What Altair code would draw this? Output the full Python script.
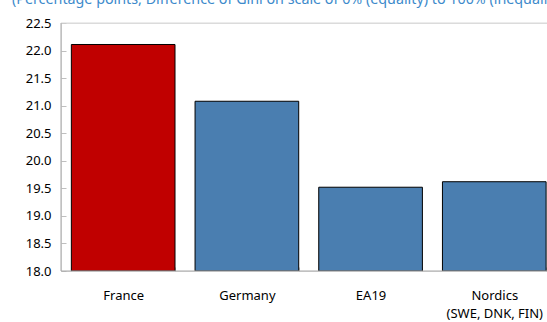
import altair as alt
import pandas as pd

# Gini gap data
categories = ["France", "Germany", "EA19", "Nordics\n(SWE, DNK, FIN)"]
values = [22.11, 21.08, 19.52, 19.62]
bar_colors = ["#C00000", "#4A7EB0", "#4A7EB0", "#4A7EB0"]
y_ticks = [18.0, 18.5, 19.0, 19.5, 20.0, 20.5, 21.0, 21.5, 22.0, 22.5]
subtitle = "(Percentage points, Difference of Gini on scale of 0% (equality) to 100% (inequality))"

W, H = 486, 248
FONT = "Noto Sans"

df = pd.DataFrame({"cat": categories, "val": values, "color": bar_colors})

x_scale = alt.Scale(domain=categories, paddingInner=0.162, paddingOuter=0.0455, align=0.92)
y_scale = alt.Scale(domain=[18.0, 22.5], nice=False, zero=False)

bars = alt.Chart(df).mark_bar(stroke="#000000", strokeWidth=1, clip=True).encode(
    x=alt.X(
        "cat:N",
        scale=x_scale,
        sort=categories,
        title=None,
        axis=alt.Axis(
            labelAngle=0,
            labelExpr="split(datum.label, '\\n')",
            labelFontSize=13,
            labelFont=FONT,
            labelColor="#000000",
            labelLineHeight=18,
            labelPadding=18,
            tickBand="extent",
            tickSize=4,
            tickColor="#bfbfbf",
            offset=-4,
            domain=False,
            grid=False,
        ),
    ),
    y=alt.Y(
        "val:Q",
        scale=y_scale,
        title=None,
        axis=alt.Axis(
            values=y_ticks,
            format=".1f",
            labelFontSize=13,
            labelFont=FONT,
            labelColor="#000000",
            labelPadding=10,
            tickSize=5,
            tickColor="#bfbfbf",
            offset=-5,
            domain=False,
            grid=False,
        ),
    ),
    y2=alt.datum(18.0),
    color=alt.Color("color:N", scale=None, legend=None),
)

# frame lines around the plot area
frame_top = alt.Chart(pd.DataFrame({"k": [0]})).mark_rule(color="#d9d9d9", strokeWidth=1).encode(
    x=alt.value(0), x2=alt.value(W), y=alt.value(0)
)
frame_left = alt.Chart(pd.DataFrame({"k": [0]})).mark_rule(color="#a6a6a6", strokeWidth=1).encode(
    x=alt.value(0), y=alt.value(0), y2=alt.value(H)
)
frame_bottom = alt.Chart(pd.DataFrame({"k": [0]})).mark_rule(color="#a6a6a6", strokeWidth=1).encode(
    x=alt.value(0), x2=alt.value(W), y=alt.value(H)
)

head = alt.Chart(pd.DataFrame({"t": [subtitle]})).mark_text(
    align="left", baseline="alphabetic", font=FONT, fontSize=14.3, color="#3D8ACB"
).encode(text="t:N", x=alt.value(-49), y=alt.value(-19))

chart = (
    alt.layer(frame_top, bars, frame_left, frame_bottom, head)
    .properties(
        width=W,
        height=H,
        autosize=alt.AutoSizeParams(type="none"),
        padding={"left": 61, "top": 23, "right": 0, "bottom": 51},
    )
    .configure_view(stroke=None)
    .configure(background="#ffffff")
)

chart.save("out.html", embed_options={"renderer": "svg", "actions": False})
